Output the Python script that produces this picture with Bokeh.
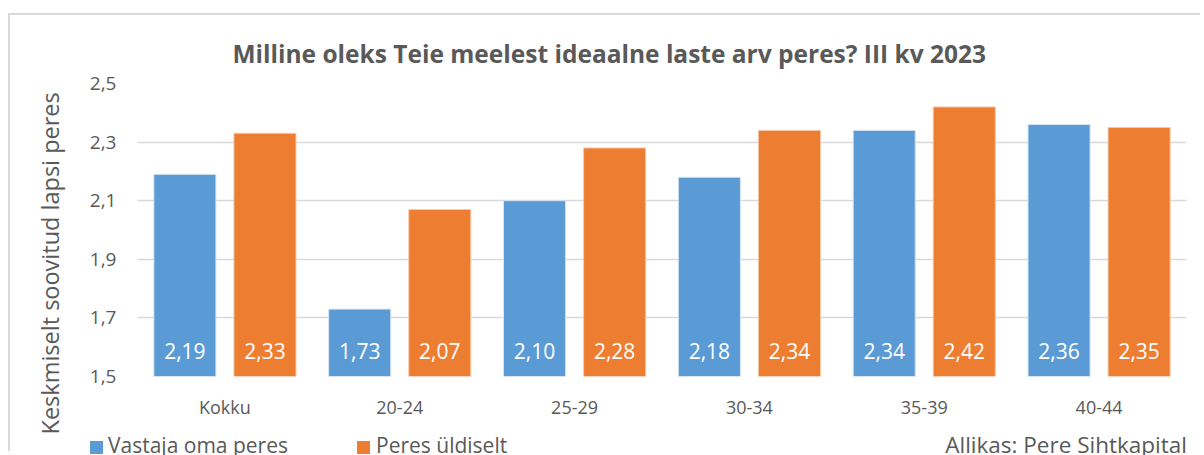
from bokeh.plotting import figure
from bokeh.layouts import column
from bokeh.models import (ColumnDataSource, FixedTicker, CustomJSTickFormatter,
                          Range1d, FactorRange, Title, Div)
from bokeh.transform import dodge
from bokeh.core.properties import value
from bokeh.embed import file_html
from bokeh.resources import INLINE

categories = ["Kokku", "20-24", "25-29", "30-34", "35-39", "40-44"]
own_family = [2.19, 1.73, 2.10, 2.18, 2.34, 2.36]
in_general = [2.33, 2.07, 2.28, 2.34, 2.42, 2.35]
series_names = ["Vastaja oma peres", "Peres üldiselt"]
y_ticks = [1.5, 1.7, 1.9, 2.1, 2.3, 2.5]
title_text = "Milline oleks Teie meelest ideaalne laste arv peres? III kv 2023"
y_label = "Keskmiselt soovitud lapsi peres"
source_text = "Allikas: Pere Sihtkapital"

BLUE = "#5B9BD5"
ORANGE = "#ED7D31"
GREY = "#595959"
BORDER = "2px solid #d9d9d9"
FONT = "Open Sans"
y_start, y_end = y_ticks[0], y_ticks[-1]

def fmt(v):
    return f"{v:.2f}".replace(".", ",")

W = 1192
MAIN_H = 438
MB_TOP, MB_BOTTOM = 68, 77
LEG_H = 29
LEG_INNER_H = 34
LBL_PX = 26          # data-label height above the bar base (px)
frame_h = MAIN_H - MB_TOP - MB_BOTTOM
label_y = y_start + LBL_PX / frame_h * (y_end - y_start)

src = ColumnDataSource(dict(
    cat=categories,
    own=own_family,
    gen=in_general,
    own_lbl=[fmt(v) for v in own_family],
    gen_lbl=[fmt(v) for v in in_general],
    lbl_y=[label_y] * len(categories),
))

p = figure(x_range=FactorRange(*categories), y_range=Range1d(y_start, y_end),
           width=W, height=MAIN_H, output_backend="svg", toolbar_location=None,
           min_border_left=127, min_border_right=16,
           min_border_top=MB_TOP, min_border_bottom=MB_BOTTOM)
p.styles = {"margin-left": "8px", "margin-top": "13px",
            "border-left": BORDER, "border-top": BORDER}

off = 0.229
bw = 0.355
p.vbar(x=dodge("cat", -off, range=p.x_range), top="own", bottom=y_start, width=bw,
       source=src, fill_color=BLUE, line_color="#d6e4f3", line_width=1)
p.vbar(x=dodge("cat", off, range=p.x_range), top="gen", bottom=y_start, width=bw,
       source=src, fill_color=ORANGE, line_color="#f6c9a9", line_width=1)

for xcol, tcol in ((-off, "own_lbl"), (off, "gen_lbl")):
    p.text(x=dodge("cat", xcol, range=p.x_range), y="lbl_y", text=tcol, source=src,
           text_color="white", text_font=value(FONT), text_font_size="21px",
           text_align="center", text_baseline="middle")

p.title.text = title_text
p.title.align = "left"
p.title.offset = 95
p.title.text_font = FONT
p.title.text_font_size = "24.5px"
p.title.text_font_style = "bold"
p.title.text_color = GREY
p.title.standoff = 27

p.yaxis.ticker = FixedTicker(ticks=y_ticks)
p.yaxis.formatter = CustomJSTickFormatter(code="return tick.toFixed(1).replace('.', ',');")
for ax in (p.xaxis, p.yaxis):
    ax.axis_line_color = None
    ax.major_tick_line_color = None
    ax.minor_tick_line_color = None
    ax.major_tick_out = 0
    ax.major_tick_in = 0
    ax.major_label_text_font = FONT
    ax.major_label_text_color = GREY
p.yaxis.major_label_text_font_size = "19px"
p.xaxis.major_label_text_font_size = "18px"
p.yaxis.major_label_standoff = 21
p.xaxis.major_label_standoff = 18

p.add_layout(Title(text=y_label, align="left", offset=-58, standoff=42,
                   text_font=FONT, text_font_size="23.5px", text_font_style="normal",
                   text_color=GREY), "left")

p.xgrid.grid_line_color = None
p.ygrid.grid_line_color = "#d9d9d9"
p.ygrid.grid_line_width = 1.5
p.outline_line_color = None

# legend + source strip, overlapping the bottom margin of the chart
legend_entries = [(80, 98, BLUE, series_names[0]), (347, 366, ORANGE, series_names[1])]
parts = []
for sq_x, tx_x, col, name in legend_entries:
    parts.append(f'<span style="position:absolute;left:{sq_x}px;top:19px;width:13px;height:13px;'
                 f'background:{col};"></span>')
    parts.append(f'<span style="position:absolute;left:{tx_x}px;top:13px;line-height:21px;'
                 f'font-size:21px;white-space:nowrap;">{name}</span>')
parts.append(f'<span style="position:absolute;right:15px;top:12px;line-height:22px;'
             f'font-size:22.5px;white-space:nowrap;">{source_text}</span>')
html = (f'<div style="position:relative;width:{W}px;height:{LEG_INNER_H}px;overflow:hidden;'
        f'font-family:\'{FONT}\';color:{GREY};">' + "".join(parts) + "</div>")
leg = Div(text=html, width=W, height=LEG_H,
          styles={"margin-left": "10px", "margin-top": f"-{LEG_H}px", "overflow": "visible"})

layout = column(p, leg, spacing=0)
open("out.html", "w").write(file_html(layout, INLINE))
